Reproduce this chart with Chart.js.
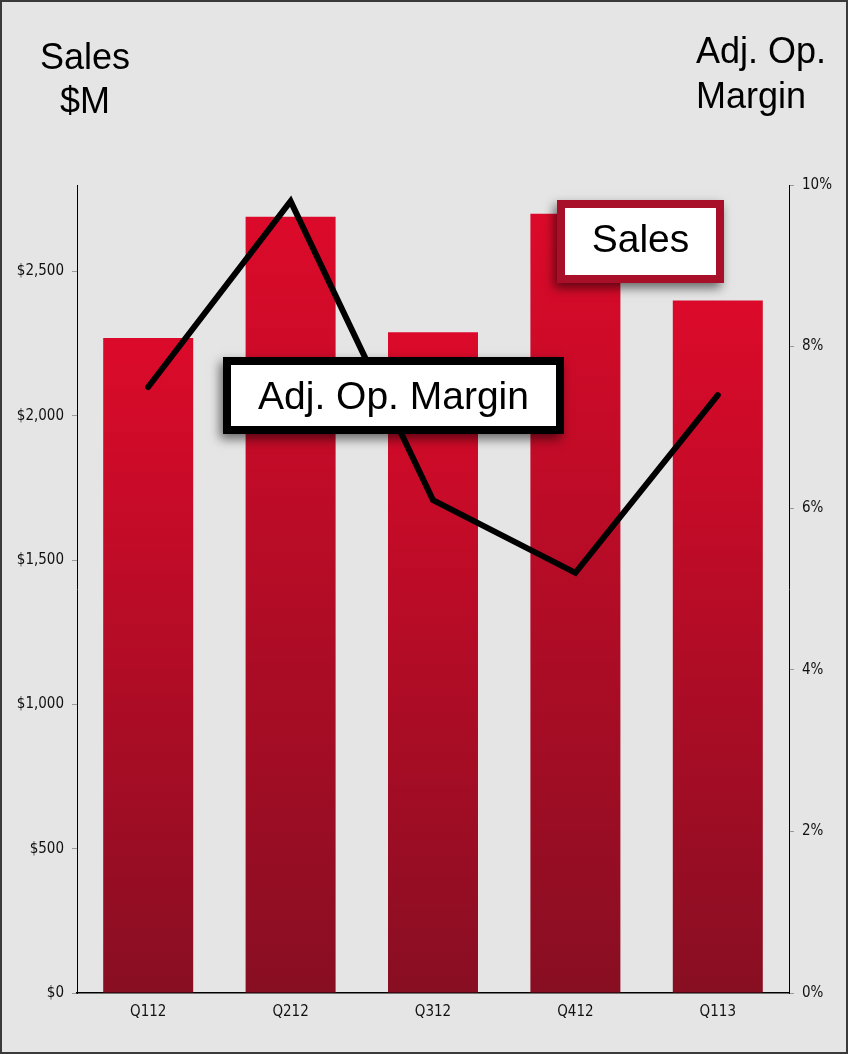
<!DOCTYPE html>
<html>
<head>
<meta charset="utf-8">
<title>Sales and Adj. Op. Margin</title>
<script src="https://cdn.jsdelivr.net/npm/chart.js@4/dist/chart.umd.min.js"></script>
<style>
  html, body { margin: 0; padding: 0; background: #e5e5e5; }
  canvas { display: block; }
</style>
</head>
<body>
<canvas id="chart" width="848" height="1054"></canvas>
<script>
// Quarterly sales ($M) and adjusted operating margin (%)
const quarters = ['Q112', 'Q212', 'Q312', 'Q412', 'Q113'];
const salesMillions = [2270, 2690, 2290, 2700, 2400];
const adjOpMargin = [7.5, 9.8, 6.1, 5.2, 7.4];

// Tick values for the two value axes
const salesTicks = [0, 500, 1000, 1500, 2000, 2500];
const marginTicks = [0, 2, 4, 6, 8, 10];
const salesAxisMax = 2800;
const marginAxisMax = 10;

const BAR_TOP = [220, 10, 42];
const BAR_BOTTOM = [136, 14, 34];
const TICK_FONT = { family: 'DejaVu Sans Condensed', size: 15 };
const HEAD_FONT = '36px "Liberation Sans", Arial, sans-serif';
const BOX_FONT = '39px "Liberation Sans", Arial, sans-serif';

// Each bar fades from bright red at its top to dark maroon at the baseline
function barGradient(context) {
  const chart = context.chart;
  const area = chart.chartArea;
  if (!area) return 'rgb(180,12,36)';
  const y = chart.scales.ySales;
  const v = context.raw;
  if (typeof v !== 'number') return 'rgb(180,12,36)';
  const top = y.getPixelForValue(v);
  const bottom = y.getPixelForValue(0);
  const g = chart.ctx.createLinearGradient(0, top, 0, bottom);
  g.addColorStop(0, `rgb(${BAR_TOP.join(',')})`);
  g.addColorStop(1, `rgb(${BAR_BOTTOM.join(',')})`);
  return g;
}

function labelBox(ctx, x, y, w, h, border, frameColor, text, baseline) {
  ctx.save();
  ctx.shadowColor = 'rgba(0,0,0,0.55)';
  ctx.shadowBlur = 10;
  ctx.shadowOffsetX = -3;
  ctx.shadowOffsetY = 5;
  ctx.fillStyle = frameColor;
  ctx.fillRect(x, y, w, h);
  ctx.restore();
  ctx.save();
  ctx.fillStyle = '#ffffff';
  ctx.fillRect(x + border, y + border, w - 2 * border, h - 2 * border);
  ctx.fillStyle = '#000000';
  ctx.font = BOX_FONT;
  ctx.textAlign = 'center';
  ctx.textBaseline = 'alphabetic';
  ctx.fillText(text, x + w / 2, baseline);
  ctx.restore();
}

const frameAndLabels = {
  id: 'frameAndLabels',
  beforeDraw(chart) {
    const ctx = chart.ctx;
    ctx.save();
    ctx.fillStyle = '#e5e5e5';
    ctx.fillRect(0, 0, chart.width, chart.height);
    ctx.restore();
  },
  afterDraw(chart) {
    const ctx = chart.ctx;
    // axis headings
    ctx.save();
    ctx.fillStyle = '#000';
    ctx.font = HEAD_FONT;
    ctx.textBaseline = 'alphabetic';
    ctx.textAlign = 'center';
    ctx.fillText('Sales', 85, 69);
    ctx.fillText('$M', 85, 113);
    ctx.textAlign = 'left';
    ctx.fillText('Adj. Op.', 696, 63);
    ctx.fillText('Margin', 696, 108);
    ctx.restore();

    // series call-outs
    labelBox(ctx, 557, 200, 167, 83, 8, '#a8102a', 'Sales', 252);
    labelBox(ctx, 223, 357, 341, 77, 8, '#000000', 'Adj. Op. Margin', 409);

    // outer frame
    ctx.save();
    ctx.strokeStyle = '#3a3a3a';
    ctx.lineWidth = 2;
    ctx.strokeRect(1, 1, chart.width - 2, chart.height - 2);
    ctx.restore();
  }
};

new Chart(document.getElementById('chart'), {
  data: {
    labels: quarters,
    datasets: [
      {
        type: 'line',
        label: 'Adj. Op. Margin',
        data: adjOpMargin,
        yAxisID: 'yMargin',
        borderColor: '#000000',
        borderWidth: 6,
        borderCapStyle: 'round',
        borderJoinStyle: 'miter',
        pointRadius: 0,
        tension: 0,
        fill: false,
        order: 0
      },
      {
        type: 'bar',
        label: 'Sales',
        data: salesMillions,
        yAxisID: 'ySales',
        backgroundColor: barGradient,
        borderWidth: 0,
        categoryPercentage: 1,
        barPercentage: 0.632,
        order: 1
      }
    ]
  },
  options: {
    responsive: false,
    animation: false,
    devicePixelRatio: 1,
    layout: { padding: { top: 185, left: 0, right: 0, bottom: 0 } },
    plugins: {
      legend: { display: false },
      tooltip: { enabled: false },
      title: { display: false }
    },
    scales: {
      x: {
        type: 'category',
        offset: true,
        grid: { display: false },
        border: { display: true, color: '#000', width: 1.5 },
        ticks: { color: '#111', font: TICK_FONT, padding: 2, maxRotation: 0 },
        afterFit(scale) { scale.height = 61; }
      },
      ySales: {
        type: 'linear',
        position: 'left',
        min: 0,
        max: salesAxisMax,
        grid: { display: true, drawOnChartArea: false, drawTicks: true, tickLength: 5, tickColor: '#9a9a9a' },
        border: { display: true, color: '#000', width: 1 },
        ticks: {
          color: '#111',
          font: TICK_FONT,
          padding: 8,
          autoSkip: false,
          callback: (v) => '$' + Number(v).toLocaleString('en-US')
        },
        afterBuildTicks(scale) {
          scale.ticks = salesTicks.map(v => ({ value: v }));
        },
        afterFit(scale) { scale.width = 77; }
      },
      yMargin: {
        type: 'linear',
        position: 'right',
        min: 0,
        max: marginAxisMax,
        grid: { display: true, drawOnChartArea: false, drawTicks: true, tickLength: 5, tickColor: '#9a9a9a' },
        border: { display: true, color: '#000', width: 1 },
        ticks: {
          color: '#111',
          font: TICK_FONT,
          padding: 8,
          autoSkip: false,
          callback: (v) => v + '%'
        },
        afterBuildTicks(scale) {
          scale.ticks = marginTicks.map(v => ({ value: v }));
        },
        afterFit(scale) { scale.width = 59; }
      }
    }
  },
  plugins: [frameAndLabels]
});
</script>
</body>
</html>
